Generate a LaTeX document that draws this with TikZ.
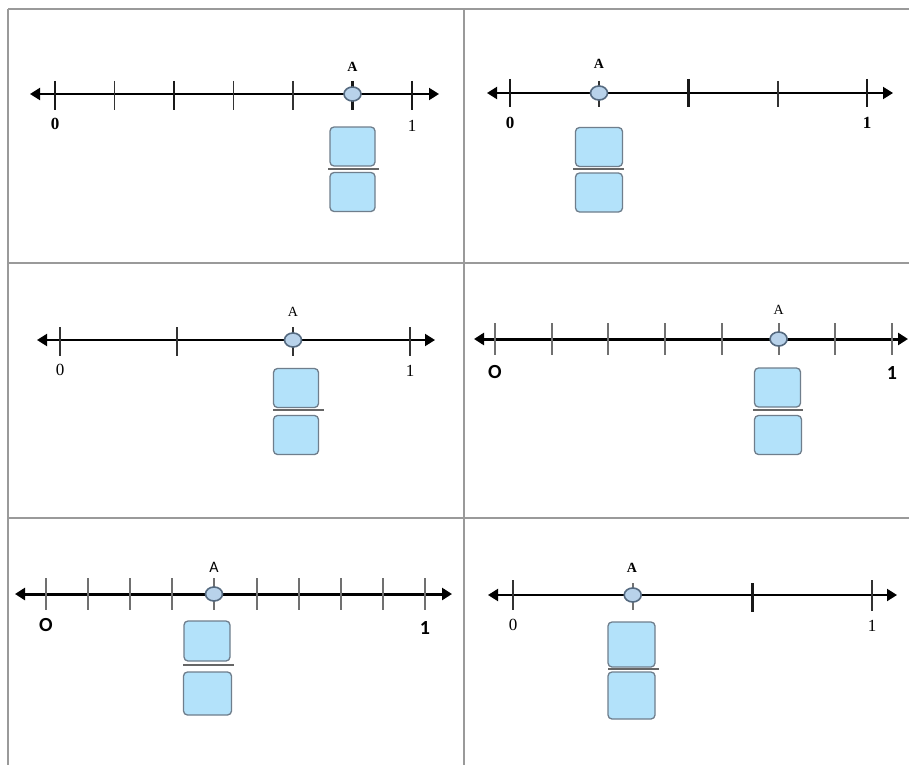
\documentclass[tikz,border=0pt]{standalone}
\usepackage{fontspec}
\setmainfont{Liberation Serif}
\newfontfamily\labsans{Carlito}
\usetikzlibrary{arrows.meta}
\definecolor{gridc}{HTML}{9A9A9A}
\definecolor{boxfill}{HTML}{B3E2FA}
\definecolor{boxdraw}{HTML}{6F7E8C}
\definecolor{ptfill}{HTML}{B8D2EA}
\definecolor{ptdraw}{HTML}{556A80}
\definecolor{tickgray}{HTML}{707070}
\tikzset{
  gridline/.style={gridc, line width=1.3},
  axis/.style={line width=2, {Triangle[length=10,width=12]}-{Triangle[length=10,width=12]}},
  axisthick/.style={line width=3, {Triangle[length=10,width=12]}-{Triangle[length=10,width=12]}},
  tk/.style={line width=1.9, black!80},
  tkb/.style={line width=2.8, black!90},
  tkg/.style={line width=2, tickgray},
  pt/.style={ellipse, draw=ptdraw, fill=ptfill, line width=1.6, minimum width=17, minimum height=14, inner sep=0},
  box/.style={draw=boxdraw, fill=boxfill, line width=1.3, rounded corners=4, minimum width=45, minimum height=39, inner sep=0},
  fracline/.style={line width=2.4, black!60},
  lab/.style={font=\fontsize{17}{17}\selectfont, inner sep=0},
  labA/.style={font=\fontsize{14}{14}\selectfont, inner sep=0},
  labs/.style={font=\labsans\bfseries\fontsize{20}{20}\selectfont, inner sep=0},
}
\usetikzlibrary{shapes.geometric}
\begin{document}
\begin{tikzpicture}[x=1pt,y=-1pt]
\useasboundingbox (0,0) rectangle (909,765);
\fill[white] (0,0) rectangle (909,765);
% grid
\draw[gridline] (8,9) -- (909,9);
\draw[gridline] (8,9) -- (8,765);
\draw[gridline] (464,9) -- (464,765);
\draw[gridline] (8,263) -- (909,263);
\draw[gridline] (8,518) -- (909,518);

% ---------- panel 1 : sixths, A = 5/6 ----------
\coordinate (p1L) at (30,94); \coordinate (p1R) at (439,94);
\draw[axis] (p1L) -- (p1R);
\foreach \i in {1,3,4} \draw[tk] ({55+\i*59.5},81) -- ({55+\i*59.5},110);
\foreach \i in {0,2,5,6} \draw[tkb] ({55+\i*59.5},81) -- ({55+\i*59.5},110);
\node[pt] (p1A) at (352.5,94) {};
\node[labA, font=\bfseries\fontsize{14}{14}\selectfont] (p1Al) at (352.5,67) {A};
\node[lab, font=\bfseries\fontsize{17}{17}\selectfont] (p1z) at (55,124) {0};
\node[lab] (p1o) at (412,126) {1};
\node[box] (p1n) at (352.5,146.5) {};
\node[box] (p1d) at (352.5,192) {};
\draw[fracline] (328,169) -- (379,169);

% ---------- panel 2 : fourths, A = 1/4 ----------
\coordinate (p2L) at (487,93); \coordinate (p2R) at (893,93);
\draw[axis] (p2L) -- (p2R);
\foreach \i in {0,2,4} \draw[tkb] ({510+\i*89.25},79) -- ({510+\i*89.25},107);
\foreach \i in {1,3} \draw[tk] ({510+\i*89.25},81) -- ({510+\i*89.25},107);
\node[pt] (p2A) at (599,93) {};
\node[labA, font=\bfseries\fontsize{14}{14}\selectfont] (p2Al) at (599,64) {A};
\node[lab, font=\bfseries\fontsize{17}{17}\selectfont] (p2z) at (510,123) {0};
\node[lab, font=\bfseries\fontsize{17}{17}\selectfont] (p2o) at (867,123) {1};
\node[box, minimum width=47] (p2n) at (599,147) {};
\node[box, minimum width=47] (p2d) at (599,192.5) {};
\draw[fracline] (573,169) -- (624,169);

% ---------- panel 3 : thirds, A = 2/3 ----------
\coordinate (p3L) at (37,340); \coordinate (p3R) at (435,340);
\draw[axis] (p3L) -- (p3R);
\foreach \i in {0,...,3} \draw[tk] ({60+\i*116.7},327) -- ({60+\i*116.7},356);
\node[pt] (p3A) at (293,340) {};
\node[labA] (p3Al) at (293,312) {A};
\node[lab] (p3z) at (60,370) {0};
\node[lab] (p3o) at (410,371) {1};
\node[box] (p3n) at (296,388) {};
\node[box] (p3d) at (296,435) {};
\draw[fracline] (273,410) -- (324,410);

% ---------- panel 4 : sevenths, A = 5/7 ----------
\coordinate (p4L) at (474,339); \coordinate (p4R) at (908,339);
\draw[axisthick] (p4L) -- (p4R);
\foreach \i in {0,...,7} \draw[tkg] ({495+\i*56.71},323) -- ({495+\i*56.71},355);
\node[pt] (p4A) at (778.6,339) {};
\node[labA] (p4Al) at (778.6,310) {A};
\node[labs] (p4z) at (495,372) {O};
\node[labs] (p4o) at (892,373) {1};
\node[box, minimum width=46] (p4n) at (777.5,387.5) {};
\node[box, minimum width=47] (p4d) at (778,435) {};
\draw[fracline] (753,410) -- (803,410);

% ---------- panel 5 : ninths, A = 4/9 ----------
\coordinate (p5L) at (15,594); \coordinate (p5R) at (452,594);
\draw[axisthick] (p5L) -- (p5R);
\foreach \i in {0,...,9} \draw[tkg] ({46+\i*42.1},578) -- ({46+\i*42.1},610);
\node[pt] (p5A) at (214,594) {};
\node[labA, font=\labsans\fontsize{16}{16}\selectfont] (p5Al) at (214,567) {A};
\node[labs] (p5z) at (46,625) {O};
\node[labs] (p5o) at (425,628) {1};
\node[box, minimum width=46, minimum height=40] (p5n) at (207,641) {};
\node[box, minimum width=48, minimum height=43] (p5d) at (207.5,693.5) {};
\draw[fracline] (183,665) -- (234,665);

% ---------- panel 6 : thirds, A = 1/3 ----------
\coordinate (p6L) at (488,595); \coordinate (p6R) at (897,595);
\draw[axis] (p6L) -- (p6R);
\draw[tk] (513,580) -- (513,610);
\draw[tkb] (752.3,583) -- (752.3,612);
\draw[tk] (872,580) -- (872,611);
\draw[tk, black!55] (632.7,583) -- (632.7,610);
\node[pt] (p6A) at (632.7,595) {};
\node[labA, font=\bfseries\fontsize{14}{14}\selectfont] (p6Al) at (632,568) {A};
\node[lab] (p6z) at (513,625) {0};
\node[lab] (p6o) at (872,626) {1};
\node[box, minimum width=47, minimum height=45] (p6n) at (631.5,644.5) {};
\node[box, minimum width=47, minimum height=47] (p6d) at (631.5,695.5) {};
\draw[fracline] (608,669) -- (659,669);
\end{tikzpicture}
\end{document}
